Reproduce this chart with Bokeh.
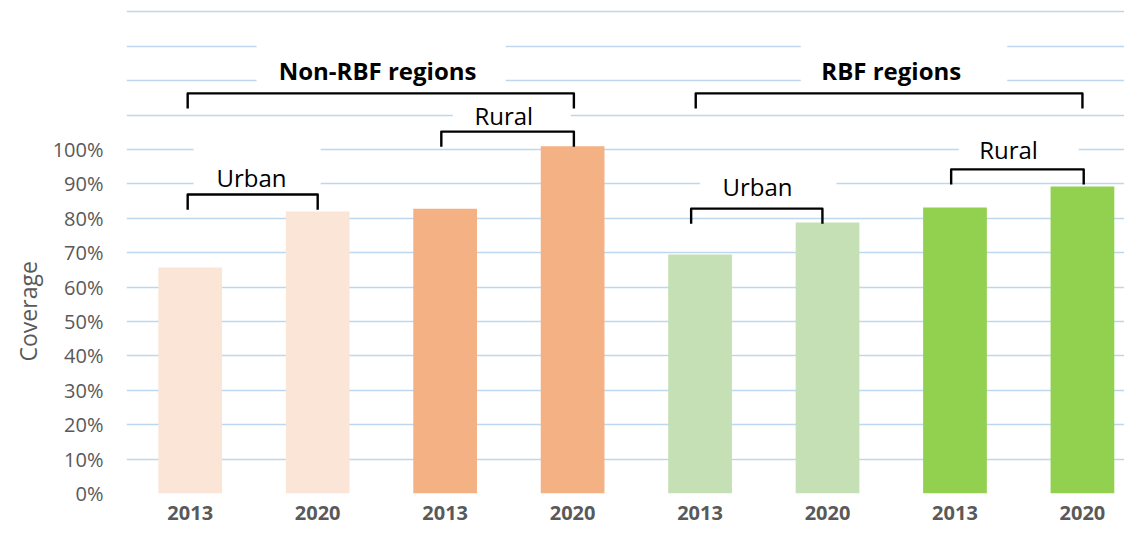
from bokeh.plotting import figure
from bokeh.models import FixedTicker, NumeralTickFormatter, Label, ColumnDataSource, Title
from bokeh.embed import file_html
from bokeh.resources import INLINE

# ---- data ----
years = ["2013", "2020", "2013", "2020", "2013", "2020", "2013", "2020"]
coverage = [0.657, 0.820, 0.828, 1.009, 0.695, 0.788, 0.831, 0.892]
group_titles = ["Non-RBF regions", "RBF regions"]
settings = ["Urban", "Rural", "Urban", "Rural"]
y_tick_values = [0.0, 0.1, 0.2, 0.3, 0.4, 0.5, 0.6, 0.7, 0.8, 0.9, 1.0]
grid_values = [0.0, 0.1, 0.2, 0.3, 0.4, 0.5, 0.6, 0.7, 0.8, 0.9, 1.0, 1.1, 1.2, 1.3, 1.4]

# ---- styles ----
bar_colors = ["#FBE5D6", "#FBE5D6", "#F4B183", "#F4B183",
              "#C5E0B4", "#C5E0B4", "#92D050", "#92D050"]
FONT = "Open Sans"
GRID = "#BDD7EE"
GRAY = "#595959"

xs = list(range(len(coverage)))

p = figure(frame_width=998, frame_height=493,
           x_range=(-0.5, 7.33), y_range=(0, 1.433),
           output_backend="svg", toolbar_location=None,
           min_border_left=126, min_border_right=0,
           min_border_top=0, min_border_bottom=33)
p.outline_line_color = None
p.background_fill_color = "white"
p.border_fill_color = "white"

# grid
p.xgrid.grid_line_color = None
p.ygrid.ticker = FixedTicker(ticks=grid_values)
p.ygrid.grid_line_color = GRID
p.ygrid.grid_line_width = 1.3

# y axis
p.yaxis.ticker = FixedTicker(ticks=y_tick_values)
p.yaxis.formatter = NumeralTickFormatter(format="0%")
p.yaxis.axis_line_color = None
p.yaxis.major_tick_line_color = None
p.yaxis.minor_tick_line_color = None
p.yaxis.major_label_standoff = 17
p.yaxis.major_label_text_font = FONT
p.yaxis.major_label_text_font_size = "20px"
p.yaxis.major_label_text_color = GRAY

# x axis
p.xaxis.ticker = FixedTicker(ticks=xs)
p.xaxis.major_label_overrides = {i: y for i, y in enumerate(years)}
p.xaxis.axis_line_color = None
p.xaxis.major_tick_line_color = None
p.xaxis.minor_tick_line_color = None
p.xaxis.major_label_standoff = 6
p.xaxis.major_label_text_font = FONT
p.xaxis.major_label_text_font_style = "bold"
p.xaxis.major_label_text_font_size = "20px"
p.xaxis.major_label_text_color = GRAY

# bars
src = ColumnDataSource(dict(x=xs, top=coverage, color=bar_colors))
p.vbar(x="x", top="top", width=0.5, fill_color="color", line_color=None, source=src)

# white boxes behind the annotation texts (mask gridlines)
mask_left = [0.52, 4.79, 2.06, 0.026, 4.0, 6.03]
mask_right = [2.475, 6.41, 2.985, 1.023, 5.07, 6.97]
mask_bottom = [1.17, 1.17, 1.065, 0.86, 0.86, 0.96]
mask_top = [1.36, 1.36, 1.14, 1.04, 0.94, 1.04]
p.quad(left=mask_left, right=mask_right, bottom=mask_bottom, top=mask_top,
       fill_color="white", line_color=None)

# brackets
brackets = [(-0.02, 3.01, 1.163), (3.966, 7.0, 1.163),
            (-0.02, 1.0, 0.869), (1.97, 3.01, 1.052),
            (3.93, 4.96, 0.828), (5.97, 7.01, 0.942)]
leg = 0.044
bx = [[a, a, b, b] for a, b, h in brackets]
by = [[h - leg, h, h, h - leg] for a, b, h in brackets]
p.multi_line(xs=bx, ys=by, line_color="black", line_width=2.4, line_join="round")

# texts
texts = [(group_titles[0], 1.47, 1.229, "bold"),
         (group_titles[1], 5.5, 1.229, "bold"),
         (settings[0], 0.48, 0.918, "normal"),
         (settings[1], 2.46, 1.099, "normal"),
         (settings[2], 4.45, 0.892, "normal"),
         (settings[3], 6.42, 1.000, "normal")]
for t, x, y, st in texts:
    p.add_layout(Label(x=x, y=y, text=t, text_align="center", text_baseline="alphabetic",
                       text_font=FONT, text_font_size="24px", text_font_style=st,
                       text_color="black"))

# y axis title, placed along the 0-100% part of the axis
p.add_layout(Title(text="Coverage", align="left", offset=132, standoff=12,
                   text_font=FONT, text_font_size="23px", text_font_style="normal",
                   text_color=GRAY), "left")

open("out.html", "w").write(file_html(p, INLINE))
